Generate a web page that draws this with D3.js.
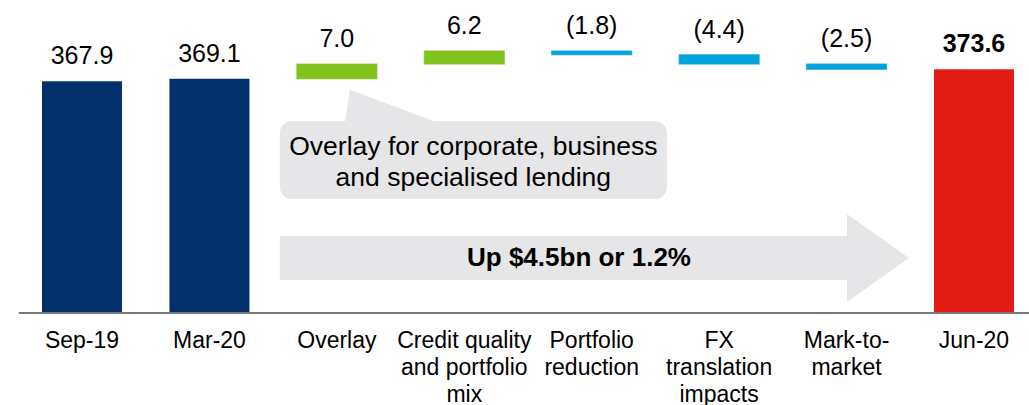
<!DOCTYPE html>
<html>
<head>
<meta charset="utf-8">
<script src="https://cdn.jsdelivr.net/npm/d3@7"></script>
<style>
  body { margin: 0; background: #fff; }
  text { font-family: "Liberation Sans", Arial, sans-serif; fill: #000; }
</style>
</head>
<body>
<div id="chart"></div>
<script>
// categories (line breaks as shown under the axis)
const categories = ["Sep-19", "Mar-20", "Overlay", "Credit quality\nand portfolio\nmix",
    "Portfolio\nreduction", "FX\ntranslation\nimpacts", "Mark-to-\nmarket", "Jun-20"];
// totals are balances, the rest are movements
const values = [367.9, 369.1, 7.0, 6.2, -1.8, -4.4, -2.5, 373.6];
const kinds = ["total", "total", "up", "up", "down", "down", "down", "final"];
const calloutLines = ["Overlay for corporate, business", "and specialised lending"];
const arrowLabel = "Up $4.5bn or 1.2%";
const axisFloor = 258; // truncated axis start

const colors = { total: "#02306a", up: "#80c31f", down: "#03a3db", final: "#e21c14" };

const width = 1029, height = 405;

// running totals for the waterfall
let running = 0;
const steps = categories.map((c, i) => {
    let start, end;
    if (kinds[i] === "total" || kinds[i] === "final") {
        start = axisFloor; end = values[i];
        running = values[i];
    } else {
        start = running; end = running + values[i];
        running = end;
    }
    return { cat: c, value: values[i], kind: kinds[i], start: start, end: end };
});

const svg = d3.select("#chart").append("svg")
    .attr("width", width)
    .attr("height", height);

const x = d3.scaleBand()
    .domain(categories)
    .range([18.3, 1037.7])
    .paddingInner(0.372)
    .paddingOuter(0.186);

const y = d3.scaleLinear()
    .domain([axisFloor, d3.max(steps, d => Math.max(d.start, d.end))])
    .range([312.5, 51]);

// annotations behind the bars
const xOv = x("Overlay");
const xEnd = x("Jun-20");
const ovBottom = y(steps[2].start);

// callout box with pointer to the overlay bar
const box = { x0: xOv - 17, x1: xOv + 370, y0: 121, y1: 199 };
const callout = svg.append("g");
callout.append("rect")
    .attr("x", box.x0).attr("y", box.y0)
    .attr("width", box.x1 - box.x0).attr("height", box.y1 - box.y0)
    .attr("rx", 12)
    .attr("fill", "#e6e5e8");
callout.append("path")
    .attr("d", "M" + (xOv + 53) + "," + (ovBottom + 11) +
        "L" + (xOv + 48) + "," + (box.y0 + 2) +
        "L" + (xOv + 142) + "," + (box.y0 + 2) + "Z")
    .attr("fill", "#e6e5e8");
callout.selectAll("text.cl")
    .data(calloutLines)
    .enter().append("text")
    .attr("class", "cl")
    .attr("x", (box.x0 + box.x1) / 2)
    .attr("y", (d, i) => 155 + i * 31)
    .attr("text-anchor", "middle")
    .style("font-size", "26.5px")
    .text(d => d);

// big arrow
const ar = { x0: xOv - 17, xh: xEnd - 87, tip: xEnd - 25, sy0: 236, sy1: 280, hy0: 214, hy1: 302 };
const midY = (ar.hy0 + ar.hy1) / 2;
svg.append("path")
    .attr("d", "M" + ar.x0 + "," + ar.sy0 + "L" + ar.xh + "," + ar.sy0 + "L" + ar.xh + "," + ar.hy0 +
        "L" + ar.tip + "," + midY + "L" + ar.xh + "," + ar.hy1 + "L" + ar.xh + "," + ar.sy1 +
        "L" + ar.x0 + "," + ar.sy1 + "Z")
    .attr("fill", "#e6e5e8");
svg.append("text")
    .attr("x", 579)
    .attr("y", 266)
    .attr("text-anchor", "middle")
    .style("font-size", "26px")
    .style("font-weight", "bold")
    .text(arrowLabel);

// bars
svg.selectAll("rect.bar")
    .data(steps)
    .enter().append("rect")
    .attr("class", "bar")
    .attr("x", d => x(d.cat))
    .attr("width", x.bandwidth())
    .attr("y", d => y(Math.max(d.start, d.end)))
    .attr("height", d => Math.abs(y(d.start) - y(d.end)))
    .attr("fill", d => colors[d.kind])
    .attr("stroke", d => colors[d.kind])
    .attr("stroke-opacity", d => d.kind === "up" || d.kind === "down" ? 0.7 : 0)
    .attr("stroke-width", 1.2);

// value labels
const fmt = d3.format(".1f");
svg.selectAll("text.val")
    .data(steps)
    .enter().append("text")
    .attr("class", "val")
    .attr("x", d => x(d.cat) + x.bandwidth() / 2)
    .attr("y", d => y(Math.max(d.start, d.end)) - 17)
    .attr("text-anchor", "middle")
    .style("font-size", "25px")
    .style("font-weight", d => d.kind === "final" ? "bold" : "normal")
    .text(d => d.value < 0 ? "(" + fmt(-d.value) + ")" : fmt(d.value));

// x axis
const xAxis = svg.append("g")
    .attr("transform", "translate(0," + y(axisFloor) + ")")
    .call(d3.axisBottom(x).tickSize(0).tickSizeOuter(0).tickFormat(""));
xAxis.select(".domain")
    .attr("stroke", "#777777")
    .attr("stroke-width", 2);

xAxis.selectAll(".tick").each(function (d) {
    const t = d3.select(this).append("text")
        .attr("text-anchor", "middle")
        .style("font-size", "23px")
        .attr("fill", "#000");
    d.split("\n").forEach((line, i) => {
        t.append("tspan")
            .attr("x", 0)
            .attr("y", 35.5 + i * 27)
            .text(line);
    });
});
</script>
</body>
</html>
